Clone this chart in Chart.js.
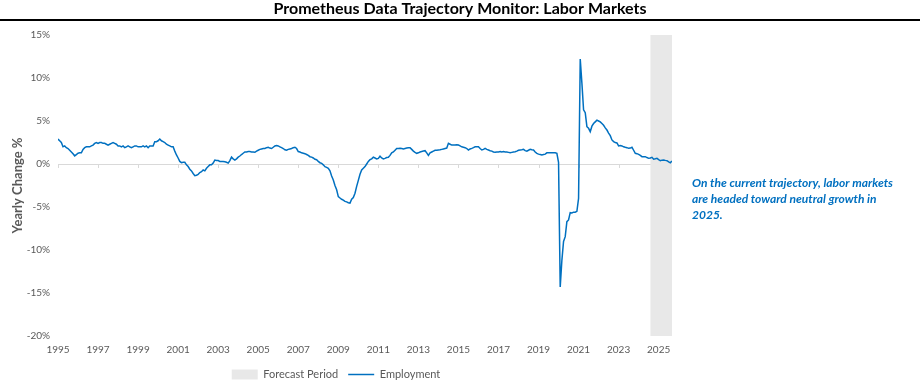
<!DOCTYPE html>
<html>
<head>
<meta charset="utf-8">
<title>Prometheus Data Trajectory Monitor: Labor Markets</title>
<script src="https://cdn.jsdelivr.net/npm/chart.js@4.4.1/dist/chart.umd.min.js"></script>
<style>
  html, body { margin: 0; padding: 0; background: #fff; }
</style>
</head>
<body>
<canvas id="chart" width="920" height="391"></canvas>
<script>
// monthly yearly-change % starting Jan 1995, one row per year
const startYear = 1995;
const employment = [
  2.9, 2.7, 2.5, 2.0, 2.1, 1.9, 1.8, 1.6, 1.4, 1.2, 0.95, 1.1,        // 1995
  1.25, 1.3, 1.3, 1.7, 1.9, 2.0, 2.0, 2.0, 2.1, 2.2, 2.4, 2.5,        // 1996
  2.4, 2.5, 2.5, 2.4, 2.4, 2.3, 2.2, 2.3, 2.4, 2.5, 2.4, 2.3,         // 1997
  2.1, 2.1, 2.0, 2.1, 1.9, 2.0, 2.1, 2.0, 1.9, 2.0, 2.1, 2.1,         // 1998
  2.0, 2.0, 2.0, 2.1, 2.0, 2.1, 1.9, 2.1, 2.1, 2.1, 2.6, 2.6,         // 1999
  2.7, 2.9, 2.7, 2.6, 2.5, 2.3, 2.2, 2.1, 2.0, 2.0, 1.5, 1.05,        // 2000
  0.7, 0.3, 0.15, 0.2, 0.2, -0.1, -0.3, -0.6, -0.8, -1.1, -1.35, -1.3, // 2001
  -1.2, -1.0, -0.9, -0.7, -0.8, -0.5, -0.3, -0.1, -0.1, 0.1, 0.45, 0.4, // 2002
  0.4, 0.3, 0.3, 0.3, 0.25, 0.2, 0.1, 0.4, 0.8, 0.6, 0.45, 0.6,       // 2003
  0.8, 0.93, 1.1, 1.25, 1.4, 1.4, 1.45, 1.45, 1.4, 1.4, 1.36, 1.5,    // 2004
  1.6, 1.7, 1.75, 1.8, 1.8, 1.9, 1.95, 1.85, 1.8, 1.95, 2.1, 2.15,    // 2005
  2.1, 2.0, 1.9, 1.8, 1.65, 1.6, 1.7, 1.75, 1.8, 1.9, 1.95, 1.8,      // 2006
  1.45, 1.4, 1.3, 1.25, 1.2, 1.1, 1.0, 0.85, 0.8, 0.7, 0.55, 0.5,     // 2007
  0.3, 0.15, 0.08, -0.1, -0.31, -0.4, -0.5, -0.8, -1.4, -1.86, -2.5, -3.0, // 2008
  -3.8, -3.95, -4.1, -4.2, -4.35, -4.4, -4.5, -4.55, -4.1, -3.9, -3.4, -2.6, // 2009
  -1.9, -1.2, -0.7, -0.5, -0.3, 0.0, 0.3, 0.5, 0.6, 0.8, 0.7, 0.6,    // 2010
  0.65, 0.9, 0.7, 0.6, 0.65, 0.75, 0.78, 1.0, 1.3, 1.4, 1.6, 1.8,     // 2011
  1.8, 1.82, 1.8, 1.75, 1.8, 1.85, 1.9, 1.9, 1.7, 1.5, 1.35, 1.24,    // 2012
  1.3, 1.4, 1.45, 1.5, 1.55, 1.3, 1.0, 1.3, 1.4, 1.5, 1.6, 1.6,       // 2013
  1.63, 1.65, 1.7, 1.75, 1.8, 1.85, 2.4, 2.3, 2.2, 2.2, 2.2, 2.25,    // 2014
  2.2, 2.1, 2.0, 1.95, 1.9, 1.8, 1.63, 1.75, 1.82, 1.9, 2.0, 2.0,     // 2015
  2.0, 1.8, 1.63, 1.7, 1.82, 1.7, 1.63, 1.55, 1.5, 1.4, 1.36, 1.4,    // 2016
  1.4, 1.45, 1.4, 1.45, 1.4, 1.4, 1.35, 1.3, 1.35, 1.4, 1.43, 1.5,    // 2017
  1.6, 1.63, 1.65, 1.7, 1.55, 1.5, 1.6, 1.7, 1.65, 1.63, 1.4, 1.24,   // 2018
  1.15, 1.1, 1.05, 1.1, 1.15, 1.3, 1.3, 1.3, 1.3, 1.3, 1.3, 1.24,     // 2019
  0.2, -14.3, -11.2, -9.0, -8.45, -6.7, -6.5, -5.66, -5.7, -5.6, -5.6, -5.5, // 2020
  -4.0, 12.2, 9.4, 6.3, 5.97, 4.34, 4.15, 3.76, 4.4, 4.7, 4.9, 5.1,  // 2021
  5.0, 4.9, 4.7, 4.5, 4.2, 3.95, 3.6, 3.3, 2.8, 2.6, 2.5, 2.45,       // 2022
  2.1, 2.15, 2.1, 2.0, 1.94, 1.9, 1.82, 1.85, 1.94, 1.6, 1.24, 1.2,   // 2023
  1.12, 1.0, 0.85, 0.85, 0.85, 0.75, 0.66, 0.7, 0.78, 0.55, 0.6, 0.66, // 2024
  0.5, 0.39, 0.45, 0.47, 0.42, 0.39, 0.25, 0.15, 0.35                 // 2025
];
const forecastPeriod = [2024.58, 2025.667];
const tickYears = [1995, 1997, 1999, 2001, 2003, 2005, 2007, 2009, 2011, 2013, 2015, 2017, 2019, 2021, 2023, 2025];
const chartTitle = 'Prometheus Data Trajectory Monitor: Labor Markets';
const noteLines = [
  'On the current trajectory, labor markets',
  'are headed toward neutral growth in',
  '2025.'
];

const endX = startYear + (employment.length - 1) / 12;
const gray = '#595959';

// title across the full width + black rule, small tick marks on the 0% line, side note
const extras = {
  id: 'extras',
  beforeDatasetsDraw(chart) {
    const { ctx, scales } = chart;
    const y0 = scales.y.getPixelForValue(0);
    ctx.save();
    ctx.strokeStyle = '#D9D9D9';
    ctx.lineWidth = 1;
    tickYears.forEach(v => {
      const x = Math.round(scales.x.getPixelForValue(v)) + 0.5;
      ctx.beginPath();
      ctx.moveTo(x, y0);
      ctx.lineTo(x, y0 + 4);
      ctx.stroke();
    });
    ctx.restore();
  },
  afterDraw(chart) {
    const { ctx, chartArea } = chart;
    ctx.save();
    ctx.fillStyle = '#000';
    ctx.font = 'bold 16px Lato';
    ctx.textAlign = 'center';
    ctx.textBaseline = 'middle';
    ctx.fillText(chartTitle, chart.width / 2, 9);
    ctx.fillRect(0, 19, chart.width, 2);
    ctx.fillStyle = '#0070C0';
    ctx.font = 'italic bold 12px Lato';
    ctx.textAlign = 'left';
    noteLines.forEach((t, i) => {
      ctx.fillText(t, chartArea.right + 20, 183 + i * 16.3);
    });
    ctx.restore();
  }
};

new Chart(document.getElementById('chart'), {
  type: 'line',
  data: {
    datasets: [
      {
        label: 'Employment',
        data: employment.map((v, i) => ({ x: startYear + i / 12, y: v })),
        borderColor: '#0070C0',
        backgroundColor: '#0070C0',
        borderWidth: 1.5,
        pointRadius: 0,
        pointStyle: 'line',
        tension: 0
      },
      {
        label: 'Forecast Period',
        data: forecastPeriod.map(x => ({ x: x, y: 15 })),
        borderColor: 'rgba(0,0,0,0)',
        backgroundColor: '#E8E8E8',
        borderWidth: 0,
        pointRadius: 0,
        pointStyle: 'rect',
        fill: { value: -20 }
      }
    ]
  },
  options: {
    responsive: false,
    animation: false,
    devicePixelRatio: 1,
    layout: { padding: { left: 0, right: 248, top: 35, bottom: 1 } },
    plugins: {
      title: { display: false },
      legend: {
        position: 'bottom',
        labels: {
          usePointStyle: true,
          pointStyleWidth: 26,
          boxHeight: 10,
          color: gray,
          font: { family: 'Lato', size: 11 },
          padding: 10,
          sort: (a, b) => b.datasetIndex - a.datasetIndex
        }
      },
      tooltip: { enabled: false }
    },
    scales: {
      x: {
        type: 'linear',
        min: startYear,
        max: endX,
        afterFit: s => { s.height = 23; },
        grid: { display: false, drawTicks: false },
        border: { display: false },
        afterBuildTicks: s => { s.ticks = tickYears.map(v => ({ value: v })); },
        ticks: {
          autoSkip: false,
          maxRotation: 0,
          padding: 8,
          color: gray,
          font: { family: 'Lato', size: 10 },
          callback: v => String(v)
        }
      },
      y: {
        min: -20,
        max: 15,
        afterFit: s => { s.width = 58; },
        grid: {
          drawTicks: false,
          color: c => (c.tick && c.tick.value === 0 ? '#D9D9D9' : 'rgba(0,0,0,0)')
        },
        border: { display: false },
        ticks: {
          stepSize: 5,
          padding: 8,
          color: gray,
          font: { family: 'Lato', size: 10 },
          callback: v => v + '%'
        },
        title: {
          display: true,
          text: 'Yearly Change %',
          color: gray,
          font: { family: 'Lato', size: 13, weight: 'bold' },
          padding: { top: 10, bottom: 0 }
        }
      }
    }
  },
  plugins: [extras]
});
</script>
</body>
</html>
